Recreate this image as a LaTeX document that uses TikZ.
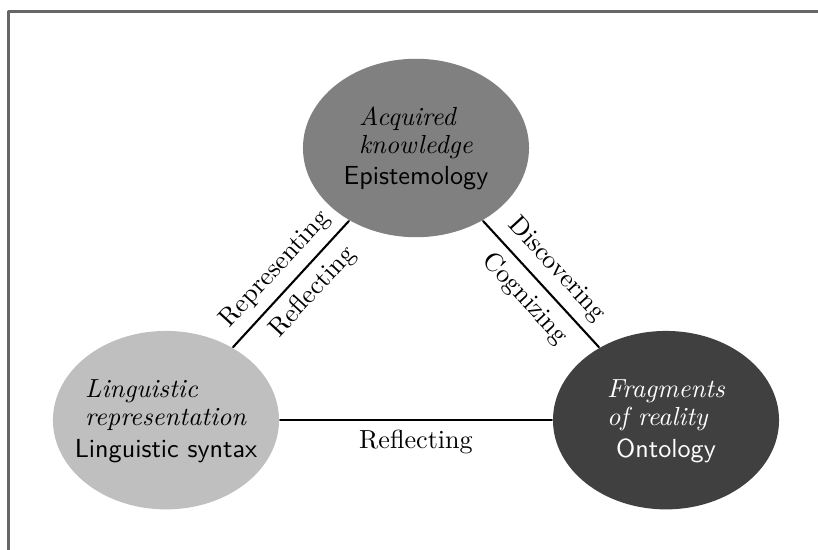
\documentclass[tikz,border=0pt]{standalone}
\usetikzlibrary{shapes.geometric}
\renewcommand{\arraystretch}{0.9}
\tikzstyle{every node}=[font=\normalsize]
\tikzstyle{every path}=[line width=0.8pt,line cap=round,line join=round]
\tikzstyle{concept}=[ellipse,minimum width=3.04cm,minimum height=2.4cm,inner sep=0pt]
\tikzstyle{concept text}=[align=center,inner sep=0pt]
\tikzstyle{link label}=[sloped]

\begin{document}
\begin{tikzpicture}
    \useasboundingbox (0,0) rectangle (11.0,-7.396);

    % frame (only the left and top edges show)
    \coordinate (frameBL) at (0.114,-7.396);
    \coordinate (frameTR) at (11.0,-0.155);
    \draw[black!60] (frameBL) |- (frameTR);

    % the three concepts
    \node [concept,fill=black!50] (epi) at (5.594,-1.99) {};
    \node [concept,fill=black!25] (ling) at (2.232,-5.65) {};
    \node [concept,fill=black!75] (onto) at (8.956,-5.65) {};

    % texts of the concepts
    \node [concept text] (epiText) at (epi)
        {\begin{tabular}[b]{@{}l@{}}\textit{Acquired}\\\textit{knowledge}\end{tabular}\\\textsf{Epistemology}};
    \node [concept text] (lingText) at (ling)
        {\begin{tabular}[b]{@{}l@{}}\textit{Linguistic}\\\textit{representation}\end{tabular}\\\textsf{Linguistic syntax}};
    \node [concept text,text=white] (ontoText) at (onto)
        {\begin{tabular}[b]{@{}l@{}}\textit{Fragments}\\\textit{of reality}\end{tabular}\\\textsf{Ontology}};

    % links between the concepts
    \draw (ling) -- node[link label,above] {Representing}
                    node[link label,below,pos=0.55] {Reflecting} (epi);
    \draw (epi) -- node[link label,above] {Discovering}
                   node[link label,below] {Cognizing} (onto);
    \draw (ling) -- node[below] {Reflecting} (onto);
\end{tikzpicture}
\end{document}
